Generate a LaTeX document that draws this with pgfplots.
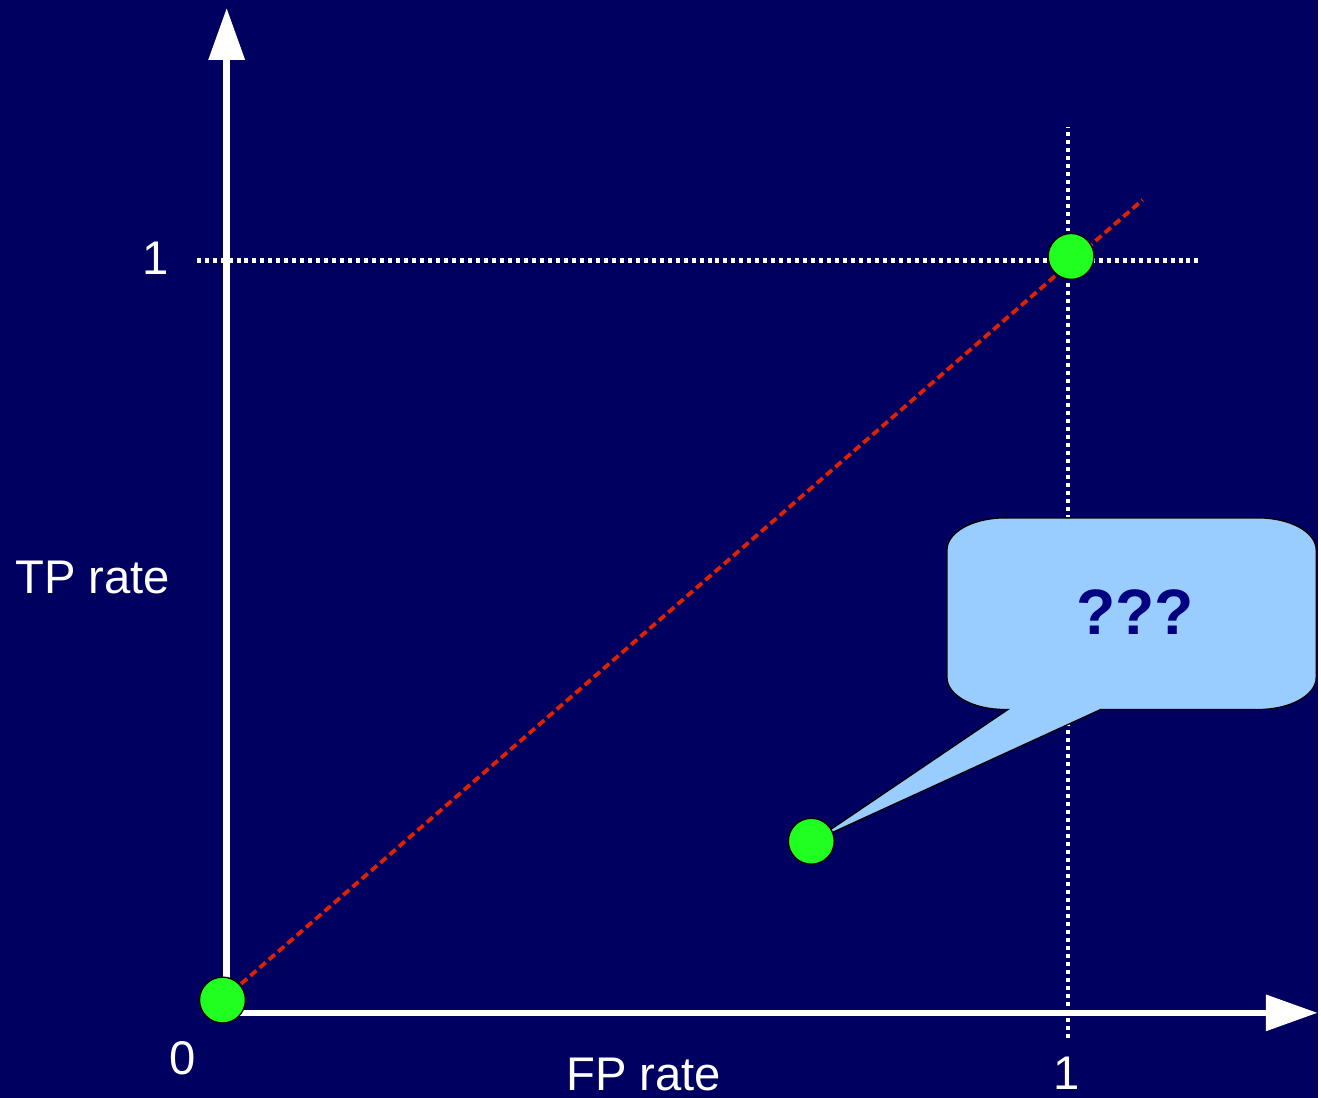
\documentclass[border=0pt]{standalone}
\usepackage{pgfplots}
\pgfplotsset{compat=1.18}
\usepackage{fontspec}
\setmainfont{Liberation Sans}
\usetikzlibrary{arrows.meta}
\definecolor{bg}{RGB}{0,0,96}
\definecolor{ptgreen}{RGB}{32,255,32}
\definecolor{diagred}{RGB}{222,34,0}
\definecolor{bubble}{RGB}{153,204,255}
\definecolor{qnavy}{RGB}{0,0,128}
\begin{document}
\begin{tikzpicture}
\begin{axis}[
  width=396.3pt, height=330pt, scale only axis,
  hide axis, clip=false,
  xmin=-0.27078, xmax=1.29810,
  ymin=-0.11258, ymax=1.34437,
]
% background
\fill[bg] (rel axis cs:0,0) rectangle (rel axis cs:1,1);
% dotted guide lines
\addplot[white, line width=1.25pt, dash pattern=on 1.2pt off 1.2pt] coordinates {(1.0,-0.0331) (1.0,1.1762)};
\addplot[white, line width=1.25pt, dash pattern=on 1.2pt off 1.2pt] coordinates {(-0.0368,0.9987) (1.1580,0.9987)};
% random-guess diagonal
\addplot[diagred, line width=1.15pt, dash pattern=on 2.4pt off 1.3pt] coordinates {(-0.006,0.017) (1.0891,1.0790)};
% axes
\addplot[white, line width=2pt, -{Triangle[length=15.6pt,width=10.5pt]}] coordinates {(-0.005,0) (1.2975,0)};
\addplot[white, line width=2pt, -{Triangle[length=15.6pt,width=10.5pt]}] coordinates {(-0.001,-0.005) (-0.001,1.3338)};
% points
\addplot[only marks, mark=*, mark size=6.9pt, mark options={fill=ptgreen, draw=black, line width=0.4pt}] coordinates {(-0.006,0.017) (1.004,1.004) (0.6948,0.2278)};
% callout
\filldraw[fill=bubble, draw=black, line width=0.4pt]
  (0.8563,0.4450) -- (0.8563,0.6146)
  .. controls (0.8563,0.6380) and (0.8872,0.6570) .. (0.9252,0.6570)
  -- (1.2268,0.6570)
  .. controls (1.2648,0.6570) and (1.2957,0.6380) .. (1.2957,0.6146)
  -- (1.2957,0.4450)
  .. controls (1.2957,0.4216) and (1.2648,0.4026) .. (1.2268,0.4026)
  -- (1.0392,0.4026) -- (0.6972,0.2278) -- (0.9287,0.4026) -- (0.9252,0.4026)
  .. controls (0.8872,0.4026) and (0.8563,0.4216) .. cycle;
\node[text=qnavy, font=\fontsize{19.3}{23}\selectfont\bfseries] at (1.0800,0.5325) {???};
% labels
\begin{scope}[every node/.style={text=white, font=\fontsize{14.2}{17}\selectfont, anchor=base, inner sep=0pt}]
\node at (-0.1603,0.5563) {TP rate};
\node at (0.4952,-0.1033) {FP rate};
\node at (-0.0540,-0.0821) {0};
\node at (-0.0861,0.9801) {1};
\node at (0.9982,-0.1020) {1};
\end{scope}
\end{axis}
\end{tikzpicture}
\end{document}
